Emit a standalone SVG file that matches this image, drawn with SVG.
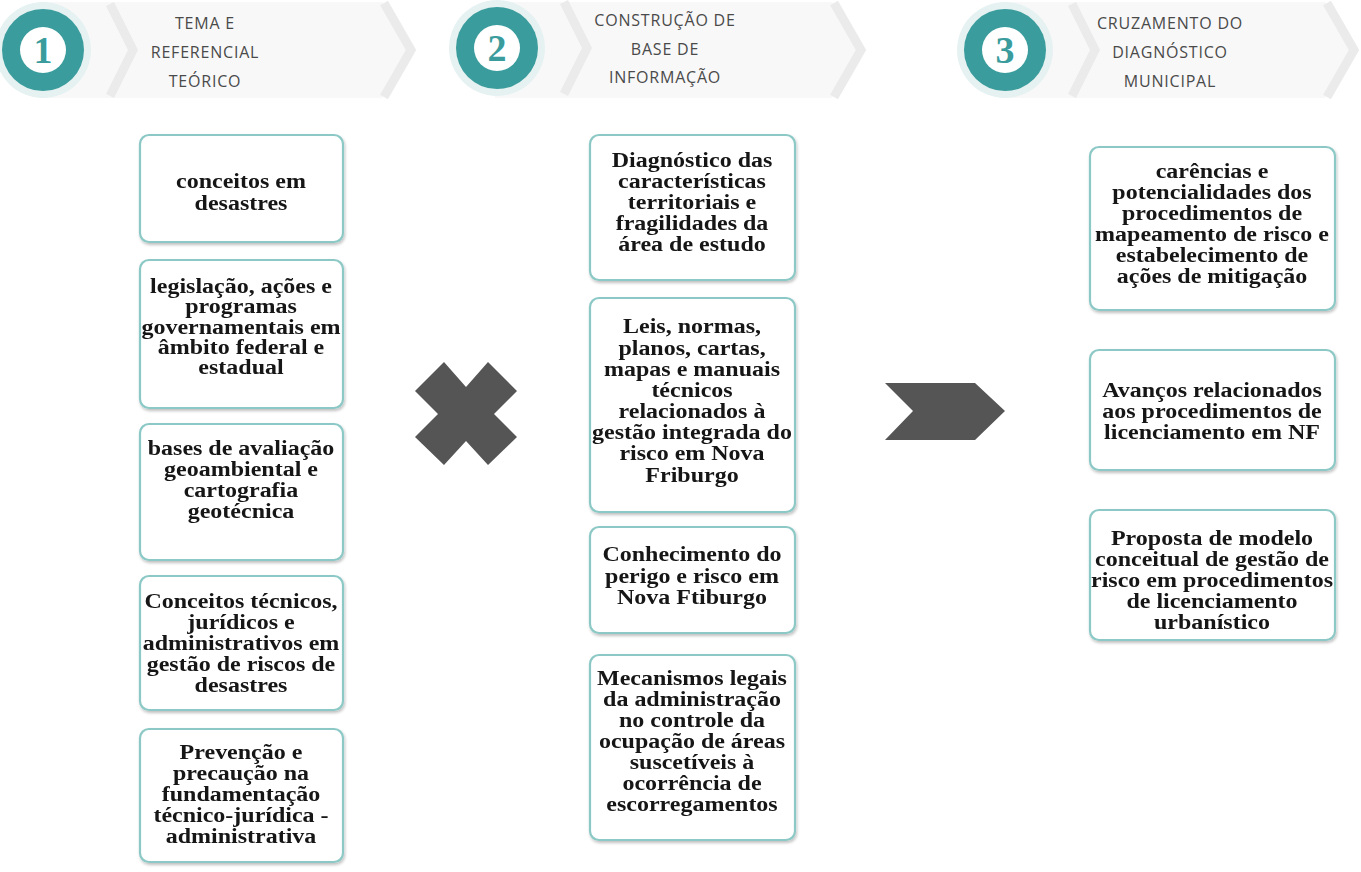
<svg xmlns="http://www.w3.org/2000/svg" width="1361" height="872" viewBox="0 0 1361 872">
<defs>
<style>
.band{fill:#f8f8f8}
.edge{fill:none;stroke:#ebebeb;stroke-width:9;stroke-linejoin:miter}
.ring{fill:#e6f1f1}
.disc{fill:#3a9c9c}
.inner{fill:#ffffff}
.num{font-family:"Liberation Serif",serif;font-weight:bold;font-size:38px;fill:#3a9c9c;text-anchor:middle}
.hd{font-family:"Open Sans","Lato",sans-serif;font-size:16px;fill:#4a4a4a;letter-spacing:0.8px;text-anchor:middle}
.box{fill:#ffffff;stroke:#8cc9c6;stroke-width:2.2}
.t{font-family:"Liberation Serif",serif;font-weight:bold;font-size:20px;fill:#141414;text-anchor:middle}
.sym{fill:#555555}
</style>
<filter id="sh" x="-5%" y="-5%" width="110%" height="110%">
<feGaussianBlur in="SourceAlpha" stdDeviation="1.5"/>
<feOffset dx="1" dy="1.5"/>
<feComponentTransfer><feFuncA type="linear" slope="0.25"/></feComponentTransfer>
<feMerge><feMergeNode/><feMergeNode in="SourceGraphic"/></feMerge>
</filter>
</defs>
<rect width="1361" height="872" fill="#ffffff"/>

<g id="header1">
<polygon class="band" points="40,2 382,2 413,50 382,98 40,98"/>
<polyline class="edge" points="384,3 411,50 384,97"/>
<polyline class="edge" points="110,4 133,50 110,96"/>
<circle class="ring" cx="43" cy="50" r="48"/>
<circle class="disc" cx="43" cy="50" r="41"/>
<circle class="inner" cx="43" cy="50" r="23"/>
<text class="num" x="43" y="63">1</text>
<text class="hd" x="205" y="29">TEMA E</text>
<text class="hd" x="205" y="58">REFERENCIAL</text>
<text class="hd" x="205" y="87">TEÓRICO</text>
</g>

<g id="header2">
<polygon class="band" points="495,2 832,2 864,50 832,98 495,98"/>
<polyline class="edge" points="834,3 861,50 834,97"/>
<polyline class="edge" points="564,2 587,48 564,94"/>
<circle class="ring" cx="497" cy="48" r="48"/>
<circle class="disc" cx="497" cy="48" r="41"/>
<circle class="inner" cx="497" cy="48" r="23"/>
<text class="num" x="497" y="61">2</text>
<text class="hd" x="665" y="26">CONSTRUÇÃO DE</text>
<text class="hd" x="665" y="55">BASE DE</text>
<text class="hd" x="665" y="83">INFORMAÇÃO</text>
</g>

<g id="header3">
<polygon class="band" points="1005,2 1325,2 1356,50 1325,98 1005,98"/>
<polyline class="edge" points="1327,3 1354,50 1327,97"/>
<polyline class="edge" points="1072,4 1095,50 1072,96"/>
<circle class="ring" cx="1005" cy="50" r="48"/>
<circle class="disc" cx="1005" cy="50" r="41"/>
<circle class="inner" cx="1005" cy="50" r="23"/>
<text class="num" x="1005" y="63">3</text>
<text class="hd" x="1170" y="29">CRUZAMENTO DO</text>
<text class="hd" x="1170" y="58">DIAGNÓSTICO</text>
<text class="hd" x="1170" y="87">MUNICIPAL</text>
</g>

<g id="c1b1" filter="url(#sh)">
<rect class="box" x="140" y="135" width="203" height="107" rx="9"/>
<g transform="translate(241 0) scale(1.2 1)">
<text class="t" x="0" y="188">conceitos em</text>
<text class="t" x="0" y="210">desastres</text>
</g>
</g>
<g id="c1b2" filter="url(#sh)">
<rect class="box" x="140" y="260" width="203" height="148" rx="9"/>
<g transform="translate(241 0) scale(1.2 1)">
<text class="t" x="0" y="293">legislação, ações e</text>
<text class="t" x="0" y="313">programas</text>
<text class="t" x="0" y="334">governamentais em</text>
<text class="t" x="0" y="354">âmbito federal e</text>
<text class="t" x="0" y="374">estadual</text>
</g>
</g>
<g id="c1b3" filter="url(#sh)">
<rect class="box" x="140" y="424" width="203" height="136" rx="9"/>
<g transform="translate(241 0) scale(1.2 1)">
<text class="t" x="0" y="455">bases de avaliação</text>
<text class="t" x="0" y="476">geoambiental e</text>
<text class="t" x="0" y="497">cartografia</text>
<text class="t" x="0" y="518">geotécnica</text>
</g>
</g>
<g id="c1b4" filter="url(#sh)">
<rect class="box" x="140" y="576" width="203" height="134" rx="9"/>
<g transform="translate(241 0) scale(1.2 1)">
<text class="t" x="0" y="608">Conceitos técnicos,</text>
<text class="t" x="0" y="629">jurídicos e</text>
<text class="t" x="0" y="650">administrativos em</text>
<text class="t" x="0" y="671">gestão de riscos de</text>
<text class="t" x="0" y="692">desastres</text>
</g>
</g>
<g id="c1b5" filter="url(#sh)">
<rect class="box" x="140" y="729" width="203" height="133" rx="9"/>
<g transform="translate(241 0) scale(1.2 1)">
<text class="t" x="0" y="759">Prevenção e</text>
<text class="t" x="0" y="780">precaução na</text>
<text class="t" x="0" y="801">fundamentação</text>
<text class="t" x="0" y="822">técnico-jurídica -</text>
<text class="t" x="0" y="843">administrativa</text>
</g>
</g>

<g id="c2b1" filter="url(#sh)">
<rect class="box" x="590" y="135" width="205" height="145" rx="9"/>
<g transform="translate(692 0) scale(1.2 1)">
<text class="t" x="0" y="167">Diagnóstico das</text>
<text class="t" x="0" y="188">características</text>
<text class="t" x="0" y="209">territoriais e</text>
<text class="t" x="0" y="230">fragilidades da</text>
<text class="t" x="0" y="251">área de estudo</text>
</g>
</g>
<g id="c2b2" filter="url(#sh)">
<rect class="box" x="590" y="298" width="205" height="214" rx="9"/>
<g transform="translate(692 0) scale(1.2 1)">
<text class="t" x="0" y="333">Leis, normas,</text>
<text class="t" x="0" y="355">planos, cartas,</text>
<text class="t" x="0" y="376">mapas e manuais</text>
<text class="t" x="0" y="397">técnicos</text>
<text class="t" x="0" y="418">relacionados à</text>
<text class="t" x="0" y="439">gestão integrada do</text>
<text class="t" x="0" y="460">risco em Nova</text>
<text class="t" x="0" y="482">Friburgo</text>
</g>
</g>
<g id="c2b3" filter="url(#sh)">
<rect class="box" x="590" y="527" width="205" height="106" rx="9"/>
<g transform="translate(692 0) scale(1.2 1)">
<text class="t" x="0" y="561">Conhecimento do</text>
<text class="t" x="0" y="583">perigo e risco em</text>
<text class="t" x="0" y="604">Nova Ftiburgo</text>
</g>
</g>
<g id="c2b4" filter="url(#sh)">
<rect class="box" x="590" y="655" width="205" height="185" rx="9"/>
<g transform="translate(692 0) scale(1.2 1)">
<text class="t" x="0" y="685">Mecanismos legais</text>
<text class="t" x="0" y="706">da administração</text>
<text class="t" x="0" y="727">no controle da</text>
<text class="t" x="0" y="748">ocupação de áreas</text>
<text class="t" x="0" y="769">suscetíveis à</text>
<text class="t" x="0" y="790">ocorrência de</text>
<text class="t" x="0" y="811">escorregamentos</text>
</g>
</g>

<g id="c3b1" filter="url(#sh)">
<rect class="box" x="1090" y="147" width="245" height="163" rx="9"/>
<g transform="translate(1212 0) scale(1.2 1)">
<text class="t" x="0" y="178">carências e</text>
<text class="t" x="0" y="199">potencialidades dos</text>
<text class="t" x="0" y="220">procedimentos de</text>
<text class="t" x="0" y="241">mapeamento de risco e</text>
<text class="t" x="0" y="262">estabelecimento de</text>
<text class="t" x="0" y="283">ações de mitigação</text>
</g>
</g>
<g id="c3b2" filter="url(#sh)">
<rect class="box" x="1090" y="350" width="245" height="120" rx="9"/>
<g transform="translate(1212 0) scale(1.2 1)">
<text class="t" x="0" y="397">Avanços relacionados</text>
<text class="t" x="0" y="418">aos procedimentos de</text>
<text class="t" x="0" y="439">licenciamento em NF</text>
</g>
</g>
<g id="c3b3" filter="url(#sh)">
<rect class="box" x="1090" y="510" width="245" height="130" rx="9"/>
<g transform="translate(1212 0) scale(1.2 1)">
<text class="t" x="0" y="545">Proposta de modelo</text>
<text class="t" x="0" y="566">conceitual de gestão de</text>
<text class="t" x="0" y="587">risco em procedimentos</text>
<text class="t" x="0" y="608">de licenciamento</text>
<text class="t" x="0" y="629">urbanístico</text>
</g>
</g>

<g id="connectors">
<polygon id="cross" class="sym" points="444,362 466,387 488,362 517,391 494,414 517,437 488,465 466,441 444,465 415,437 438,414 415,391"/>
<polygon id="chevron" class="sym" points="885,383 975,383 1005,411 975,440 885,440 913,411"/>
</g>
</svg>
